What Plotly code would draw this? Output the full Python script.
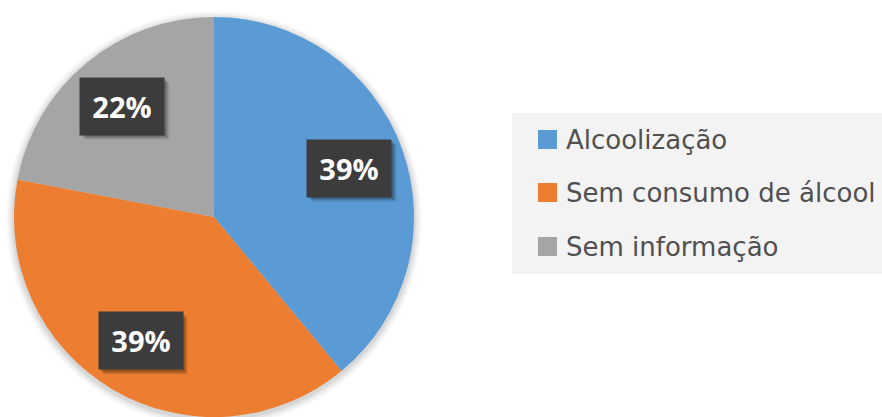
import math
import plotly.graph_objects as go

# Distribution of cases by alcohol consumption status
categories = ["Alcoolização", "Sem consumo de álcool", "Sem informação"]
shares = [39, 39, 22]
colors = ["#5B9BD5", "#ED7D31", "#A5A5A5"]

W, H = 882, 417
M_TOP = 17
PLOT_H = H - M_TOP  # plot area height in px (no side/bottom margins)

# pie placement (pixels)
PIE_LEFT, PIE_SIZE = 14, 400
CX = PIE_LEFT + PIE_SIZE / 2
CY = M_TOP + PIE_SIZE / 2
R = PIE_SIZE / 2

BOX_W, BOX_H = 84, 57  # label box size in px


def px_to_paper(x, y):
    return x / W, 1 - (y - M_TOP) / PLOT_H


def rect_px(x0, y0, x1, y1, **kw):
    px0, py0 = px_to_paper(x0, y0)
    px1, py1 = px_to_paper(x1, y1)
    return dict(type="rect", xref="paper", yref="paper",
                x0=px0, y0=py1, x1=px1, y1=py0, **kw)


fig = go.Figure(
    go.Pie(
        labels=categories,
        values=shares,
        marker=dict(colors=colors, line=dict(width=0)),
        sort=False,
        direction="clockwise",
        rotation=0,
        textinfo="none",
        hoverinfo="skip",
        domain=dict(x=[PIE_LEFT / W, (PIE_LEFT + PIE_SIZE) / W], y=[0, 1]),
        showlegend=False,
    )
)

shapes = []
annotations = []

# soft halo around the pie
for grow, alpha in [(8, 0.025), (6, 0.035), (4, 0.045), (2, 0.06)]:
    x0, y0 = px_to_paper(CX - R - grow, CY - R - grow + 2)
    x1, y1 = px_to_paper(CX + R + grow, CY + R + grow + 2)
    shapes.append(dict(type="circle", xref="paper", yref="paper",
                       x0=x0, y0=y1, x1=x1, y1=y0, layer="below",
                       fillcolor=f"rgba(0,0,0,{alpha})", line=dict(width=0)))

# percentage labels in dark boxes, placed along each slice's mid-angle
total = sum(shares)
start = 0.0
for v in shares:
    sweep = 360.0 * v / total
    mid = math.radians(start + sweep / 2)
    start += sweep
    lx = CX + 0.72 * R * math.sin(mid)
    ly = CY - 0.72 * R * math.cos(mid)
    # drop shadow of the box
    for off, alpha in [(5, 0.10), (3.5, 0.14), (2, 0.18)]:
        shapes.append(rect_px(lx - BOX_W / 2 + off, ly - BOX_H / 2 + off,
                              lx + BOX_W / 2 + off, ly + BOX_H / 2 + off,
                              fillcolor=f"rgba(0,0,0,{alpha})",
                              line=dict(width=0)))
    ax, ay = px_to_paper(lx, ly)
    annotations.append(dict(
        x=ax, y=ay, xref="paper", yref="paper",
        text=f"<b>{round(100 * v / total)}%</b>", showarrow=False,
        xanchor="center", yanchor="middle",
        width=BOX_W - 2, height=BOX_H - 2, borderpad=1, bgcolor="#3C3C3C",
        font=dict(family="Open Sans", size=29, color="white")))

# legend panel
shapes.append(rect_px(512, 113, 882, 274, layer="below",
                      fillcolor="#F3F3F3", line=dict(width=0)))

row_y = [140, 193, 247]
for name, col, ry in zip(categories, colors, row_y):
    shapes.append(rect_px(538, ry - 10, 557, ry + 9,
                          fillcolor=col, line=dict(width=0)))
    tx, ty = px_to_paper(564, ry)
    annotations.append(dict(
        x=tx, y=ty, xref="paper", yref="paper", text=name, showarrow=False,
        xanchor="left", yanchor="middle",
        font=dict(family="DejaVu Sans", size=26, color="#505050")))

fig.update_layout(
    width=W, height=H,
    margin=dict(l=0, r=0, t=M_TOP, b=0),
    paper_bgcolor="white", plot_bgcolor="white",
    shapes=shapes, annotations=annotations,
)

fig.write_html("out.html", config={"displayModeBar": False})
